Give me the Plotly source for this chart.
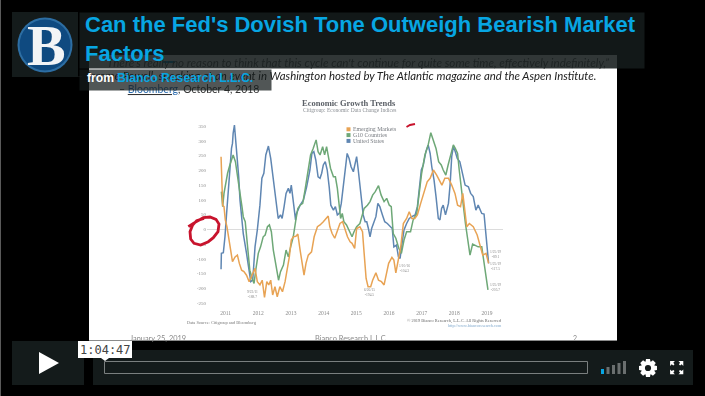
import math
import plotly.graph_objects as go

W, H = 705, 396

# ---------- data ----------
us_x = [2010.86,2010.87,2010.93,2010.98,2011.03,2011.08,2011.13,2011.18,2011.21,2011.23,2011.27,2011.30,2011.34,2011.36,2011.40,2011.44,2011.54,2011.64,2011.71,2011.77,2011.83,2011.90,2011.97,2012.05,2012.11,2012.17,2012.23,2012.31,2012.38,2012.44,2012.50,2012.56,2012.61,2012.68,2012.73,2012.79,2012.85,2012.92,2012.97,2013.01,2013.05,2013.09,2013.14,2013.17,2013.28,2013.38,2013.48,2013.58,2013.64,2013.70,2013.76,2013.83,2013.89,2013.94,2013.99,2014.05,2014.11,2014.17,2014.22,2014.30,2014.36,2014.42,2014.48,2014.54,2014.60,2014.67,2014.72,2014.78,2014.84,2014.91,2014.96,2015.01,2015.06,2015.11,2015.16,2015.21,2015.27,2015.32,2015.37,2015.42,2015.47,2015.54,2015.60,2015.66,2015.72,2015.80,2015.87,2015.95,2016.03,2016.10,2016.15,2016.23,2016.29,2016.34,2016.40,2016.46,2016.54,2016.62,2016.70,2016.80,2016.87,2016.93,2016.99,2017.05,2017.13,2017.20,2017.26,2017.31,2017.38,2017.44,2017.51,2017.56,2017.61,2017.66,2017.73,2017.82,2017.87,2017.92,2017.97,2018.03,2018.09,2018.17,2018.26,2018.33,2018.43,2018.50,2018.58,2018.66,2018.73,2018.84,2018.91,2018.96,2019.01,2019.05]
us_y = [-135,-81,-79,-25,54,133,207,274,291,325,353,314,286,240,178,99,-14,-81,-126,-177,-172,-59,-2,82,173,190,252,282,240,190,133,77,37,49,37,77,122,139,122,150,111,65,32,54,82,99,144,201,257,263,235,178,173,190,218,229,201,144,82,65,77,49,54,88,144,201,257,240,212,195,218,246,201,156,99,49,26,26,3,-25,3,26,43,88,77,49,26,20,9,3,-59,-53,-93,-98,-47,-2,20,37,43,49,77,144,201,218,263,286,257,212,167,111,37,32,71,82,49,88,150,246,280,263,240,229,190,150,144,122,111,65,82,54,52,-2,-81,-115]

g10_x = [2010.87,2010.91,2010.95,2011.00,2011.06,2011.13,2011.18,2011.23,2011.30,2011.34,2011.39,2011.44,2011.50,2011.54,2011.60,2011.64,2011.69,2011.74,2011.81,2011.87,2011.93,2012.00,2012.07,2012.15,2012.21,2012.28,2012.34,2012.40,2012.46,2012.54,2012.62,2012.68,2012.77,2012.85,2012.92,2012.99,2013.07,2013.15,2013.21,2013.28,2013.36,2013.43,2013.52,2013.60,2013.68,2013.77,2013.83,2013.89,2013.97,2014.03,2014.09,2014.14,2014.21,2014.30,2014.36,2014.42,2014.48,2014.52,2014.57,2014.62,2014.70,2014.79,2014.87,2014.93,2015.01,2015.11,2015.17,2015.24,2015.34,2015.42,2015.50,2015.58,2015.68,2015.76,2015.85,2015.93,2016.01,2016.07,2016.13,2016.21,2016.30,2016.38,2016.46,2016.54,2016.66,2016.74,2016.85,2016.93,2017.00,2017.10,2017.20,2017.28,2017.36,2017.44,2017.52,2017.60,2017.66,2017.74,2017.81,2017.89,2017.97,2018.03,2018.10,2018.15,2018.22,2018.28,2018.34,2018.40,2018.48,2018.56,2018.64,2018.73,2018.84,2018.91,2018.97,2019.03]
g10_y = [128,77,122,156,190,218,235,252,229,201,173,122,77,43,26,-25,-93,-138,-166,-183,-132,-81,-59,-25,-19,9,15,-8,-70,-115,-172,-143,-121,-70,-93,-59,-25,32,71,82,88,133,201,252,274,303,263,252,280,252,280,246,207,178,178,139,88,37,54,26,15,-8,-25,-8,9,20,43,71,82,94,116,128,148,116,94,105,82,77,-14,-30,-64,-81,-36,-8,-8,32,54,133,190,252,286,327,297,274,229,218,201,184,218,252,286,274,257,201,144,77,20,-25,-87,-50,-53,-59,-59,-115,-172,-205]

em_x = [2010.86,2010.88,2010.91,2010.95,2010.99,2011.04,2011.09,2011.15,2011.21,2011.29,2011.36,2011.42,2011.49,2011.56,2011.64,2011.72,2011.80,2011.90,2011.97,2012.05,2012.12,2012.19,2012.26,2012.32,2012.38,2012.44,2012.51,2012.58,2012.66,2012.74,2012.82,2012.89,2012.95,2013.01,2013.07,2013.15,2013.21,2013.28,2013.34,2013.40,2013.46,2013.53,2013.63,2013.71,2013.81,2013.89,2013.99,2014.07,2014.14,2014.19,2014.26,2014.34,2014.42,2014.50,2014.58,2014.66,2014.73,2014.81,2014.87,2014.95,2015.01,2015.11,2015.19,2015.24,2015.30,2015.36,2015.44,2015.50,2015.60,2015.68,2015.77,2015.85,2015.91,2015.99,2016.09,2016.15,2016.21,2016.29,2016.36,2016.44,2016.54,2016.62,2016.70,2016.79,2016.87,2016.97,2017.07,2017.17,2017.26,2017.36,2017.46,2017.54,2017.62,2017.71,2017.82,2017.92,2018.02,2018.10,2018.19,2018.26,2018.32,2018.38,2018.46,2018.58,2018.70,2018.79,2018.87,2018.97,2019.05]
em_y = [246,133,82,77,32,9,-25,-70,-109,-93,-87,-115,-138,-143,-155,-177,-155,-132,-177,-188,-172,-230,-177,-188,-172,-222,-194,-228,-194,-211,-177,-138,-93,-36,-25,-23,-16,-70,-121,-155,-115,-87,-76,-25,9,15,26,37,45,9,-14,-30,-8,20,26,-2,-25,-42,-47,-64,3,9,-8,-81,-166,-194,-194,-172,-147,-172,-177,-188,-155,-115,-95,-104,-147,-104,-59,20,37,60,37,37,49,88,122,161,173,201,184,167,150,173,173,150,122,82,77,122,65,9,20,9,-19,-59,-87,-81,-115]

y_ticks = [350,300,250,200,150,100,50,0,-50,-100,-150,-200,-250]
x_ticks = [2011,2012,2013,2014,2015,2016,2017,2018,2019]
legend_names = ["Emerging Markets","G10 Countries","United States"]
title_text = "Can the Fed's Dovish Tone Outweigh Bearish Market<br>Factors"
BAR = "#141b1b"
ORANGE, GREEN, BLUE = "#e8a354", "#6ea877", "#5f86b2"
CYAN = "#07a6e3"

def X(x): return x / W
def Y(y): return 1 - y / H

shapes, notes = [], []

def rect(x0, y0, x1, y1, color, layer="above"):
    shapes.append(dict(type="rect", xref="paper", yref="paper", x0=X(x0), x1=X(x1), y0=Y(y0), y1=Y(y1),
                       fillcolor=color, line_width=0, layer=layer))

def path(points, fill=None, line=None, width=0, closed=True, layer="above"):
    d = "M" + "L".join(f"{X(a):.5f},{Y(b):.5f}" for a, b in points) + ("Z" if closed else "")
    shapes.append(dict(type="path", xref="paper", yref="paper", path=d, fillcolor=fill or "rgba(0,0,0,0)",
                       line=dict(color=line or "rgba(0,0,0,0)", width=width), layer=layer))

def txt(x, y, s, size, color, anchor="left", family="Liberation Sans", **kw):
    notes.append(dict(xref="paper", yref="paper", x=X(x), y=Y(y), text=s, showarrow=False, xanchor=anchor,
                      yanchor="middle", font=dict(size=size, color=color, family=family), borderpad=0, **kw))

# ---------- page ----------
rect(0, 0, 1, H, "#5a5a5a", "below")
rect(89, 55, 617, 341, "#ffffff", "below")
rect(89, 340, 617, 341, "#8a8a8a", "below")
rect(12, 12, 78, 77, BAR)

# ---------- slide text ----------
txt(610, 62, "<i>“There's really no reason to think that this cycle can't continue for quite some time, effectively indefinitely,”</i>",
    11.6, "#555555", "right", "Lato")
txt(597, 75, "<i>– Jerome Powell, speaking at an event in Washington hosted by The Atlantic magazine and the Aspen Institute.</i>",
    11.4, "#222222", "right", "Lato")
txt(118, 88.5, "– <u><span style='color:#2f6fb0'>Bloomberg</span></u>, October 4, 2018", 10.5, "#333333", "left", "Lato")

# ---------- chart text ----------
SERIF = "Liberation Serif"
txt(349, 103, "<b>Economic Growth Trends</b>", 8.5, "#5a5f66", "center", SERIF)
txt(349, 110, "Citigroup: Economic Data Change Indices", 5.5, "#8b8f94", "center", SERIF)
for i, (name, col) in enumerate(zip(legend_names, [ORANGE, GREEN, BLUE])):
    cy = 129.3 + i * 5.8
    rect(346.5, cy - 2, 350.5, cy + 2, col)
    txt(351.5, cy, name, 5.8, "#777b80", "left", SERIF)
for x, y, s in [(252, 294, "9/23/11<br>-188.7"), (404, 268, "1/10/16<br>-104.3"), (369, 292, "6/26/15<br>-194.5"),
                (495, 254, "1/25/19<br>-89.1"), (495, 266, "1/25/19<br>-117.5"), (495, 287, "1/25/19<br>-205.7")]:
    txt(x, y, s, 3.6, "#8a8a8a", "center", SERIF)
txt(222, 322.7, "Data Source: Citigroup and Bloomberg", 4.4, "#777777", "center", SERIF)
txt(503, 321, "© 2019 Bianco Research, L.L.C. All Rights Reserved", 4.4, "#666666", "right", SERIF)
txt(503, 325, "http://www.biancoresearch.com", 4.2, "#7fa8cc", "right", SERIF)

# ---------- slide footer ----------
txt(129, 338, "January 25, 2019", 7.4, "#8a8a8a", "left", "Lato")
txt(350, 338, "Bianco Research L.L.C", 7.4, "#8a8a8a", "center", "Lato")
txt(575, 338, "2", 7, "#8a8a8a", "center", "Lato")
n_soft = len(notes)

# ---------- translucent header boxes (annotations so that they cover the slide text) ----------
notes.append(dict(xref="paper", yref="paper", x=X(79), y=Y(12), xanchor="left", yanchor="top", text="", showarrow=False,
                  width=564, height=55, bgcolor="rgba(20,27,27,0.88)", borderpad=0))
notes.append(dict(xref="paper", yref="paper", x=X(79), y=Y(69), xanchor="left", yanchor="top", text="", showarrow=False,
                  width=191, height=20, bgcolor="rgba(20,27,27,0.74)", borderpad=0))
txt(83.5, 39, "<b>" + title_text + "</b>", 22, CYAN, "left", "Liberation Sans")
notes[-1]["align"] = "left"
txt(86, 78.5, "<b>from</b>", 12.2, "#ffffff", "left", "Liberation Sans")
txt(116, 78.5, "<b>Bianco Research L.L.C.</b>", 12.2, CYAN, "left", "Liberation Sans")
txt(46, 45.5, "<b>B</b>", 58, "#f2f4f6", "center", "Liberation Serif")

# title dash
rect(163, 61, 175, 63, CYAN)

# logo
def circle(cx, cy, r, col):
    shapes.append(dict(type="circle", xref="paper", yref="paper", x0=X(cx - r), x1=X(cx + r), y0=Y(cy + r), y1=Y(cy - r),
                       fillcolor=col, line_width=0, layer="above"))
circle(45, 45, 27.5, "#2d6ea3")
circle(45, 45, 25.5, "#0f4a80")

# ---------- hand-drawn marks ----------
circle_pts = [(25,410),(40,400),(70,383),(90,381),(108,388),(117,402),(114,425),(100,443),(85,455),(62,465),(42,460),(32,447),(30,425),(38,405),(50,392),(72,385)]
path([(180 + a / 3, 90 + b / 3) for a, b in circle_pts], line="#c8142d", width=2.8, closed=False)
path([(406.5, 127), (410, 125), (415, 124)], line="#c8142d", width=2, closed=False)

# ---------- player controls ----------
rect(12, 341, 84, 385, BAR)
path([(39, 352), (59, 363), (39, 374)], fill="#ffffff")
rect(93, 350, 693, 385, BAR)
shapes.append(dict(type="rect", xref="paper", yref="paper", x0=X(104.5), x1=X(587.5), y0=Y(373.5), y1=Y(361.5),
                   fillcolor="rgba(0,0,0,0)", line=dict(color="#7a7f7f", width=1), layer="above"))
rect(78, 341, 132, 358, "#ffffff")
path([(101, 358), (109, 358), (105, 361)], fill="#ffffff")
txt(105, 349.5, "1:04:47", 12, "#444444", "center", "DejaVu Sans Mono")
for i, (x0, top, col) in enumerate(zip([601, 606.5, 612, 617.5, 623], [369, 367, 365, 363, 361],
                                       [CYAN, "#6a6f6f", "#6a6f6f", "#6a6f6f", "#6a6f6f"])):
    rect(x0, top, x0 + 3, 374, col)
# gear
gear = []
for k in range(8):
    a = k * math.pi / 4
    for da, r in [(-0.36, 6.9), (-0.22, 9.2), (0.22, 9.2), (0.36, 6.9)]:
        gear.append((648 + r * math.cos(a + da), 368 + r * math.sin(a + da)))
path(gear, fill="#ffffff")
circle(648, 368, 3.1, BAR)
# fullscreen corners
for sx, sy in [(-1, -1), (1, -1), (-1, 1), (1, 1)]:
    cx, cy = 676.7, 367.7
    path([(cx + sx * 6.6, cy + sy * 6.6), (cx + sx * 1.8, cy + sy * 6.6), (cx + sx * 3.4, cy + sy * 5),
          (cx + sx * 2.2, cy + sy * 3.4), (cx + sx * 3.4, cy + sy * 2.2), (cx + sx * 5, cy + sy * 3.4),
          (cx + sx * 6.6, cy + sy * 1.8)], fill="#ffffff")

# ---------- figure ----------
fig = go.Figure()
for x, y, col, name in [(us_x, us_y, BLUE, legend_names[2]), (g10_x, g10_y, GREEN, legend_names[1]), (em_x, em_y, ORANGE, legend_names[0])]:
    fig.add_trace(go.Scatter(x=x, y=y, mode="lines", name=name, line=dict(color=col, width=1.5), showlegend=False))

fig.update_layout(
    width=W, height=H, margin=dict(l=0, r=0, t=0, b=0), autosize=False,
    paper_bgcolor="#000000", plot_bgcolor="rgba(0,0,0,0)", showlegend=False,
    shapes=shapes, annotations=notes,
    xaxis=dict(domain=[207 / W, 503 / W], range=[2010.43, 2019.49], tickvals=x_ticks, ticktext=[str(v) for v in x_ticks],
               showgrid=False, zeroline=False, showline=False, ticks="", tickfont=dict(size=5.5, color="#8a8a8a", family=SERIF)),
    yaxis=dict(domain=[1 - 308 / H, 1 - 118 / H], range=[-266, 377], tickvals=y_ticks, ticktext=[str(v) for v in y_ticks],
               showgrid=False, zeroline=True, zerolinecolor="#dcdcdc", zerolinewidth=1, showline=False, ticks="",
               tickfont=dict(size=5, color="#8a8a8a", family=SERIF)),
)

post = """
document.body.style.margin='0';
document.body.style.overflow='hidden';
var c=document.querySelector('.cartesianlayer'); if(c){c.style.filter='blur(0.45px)';}
var a=document.querySelectorAll('.annotation');
for(var i=0;i<%d&&i<a.length;i++){a[i].style.filter='blur(0.4px)';}
""" % n_soft
fig.write_html("out.html", post_script=post, config={"displayModeBar": False})
